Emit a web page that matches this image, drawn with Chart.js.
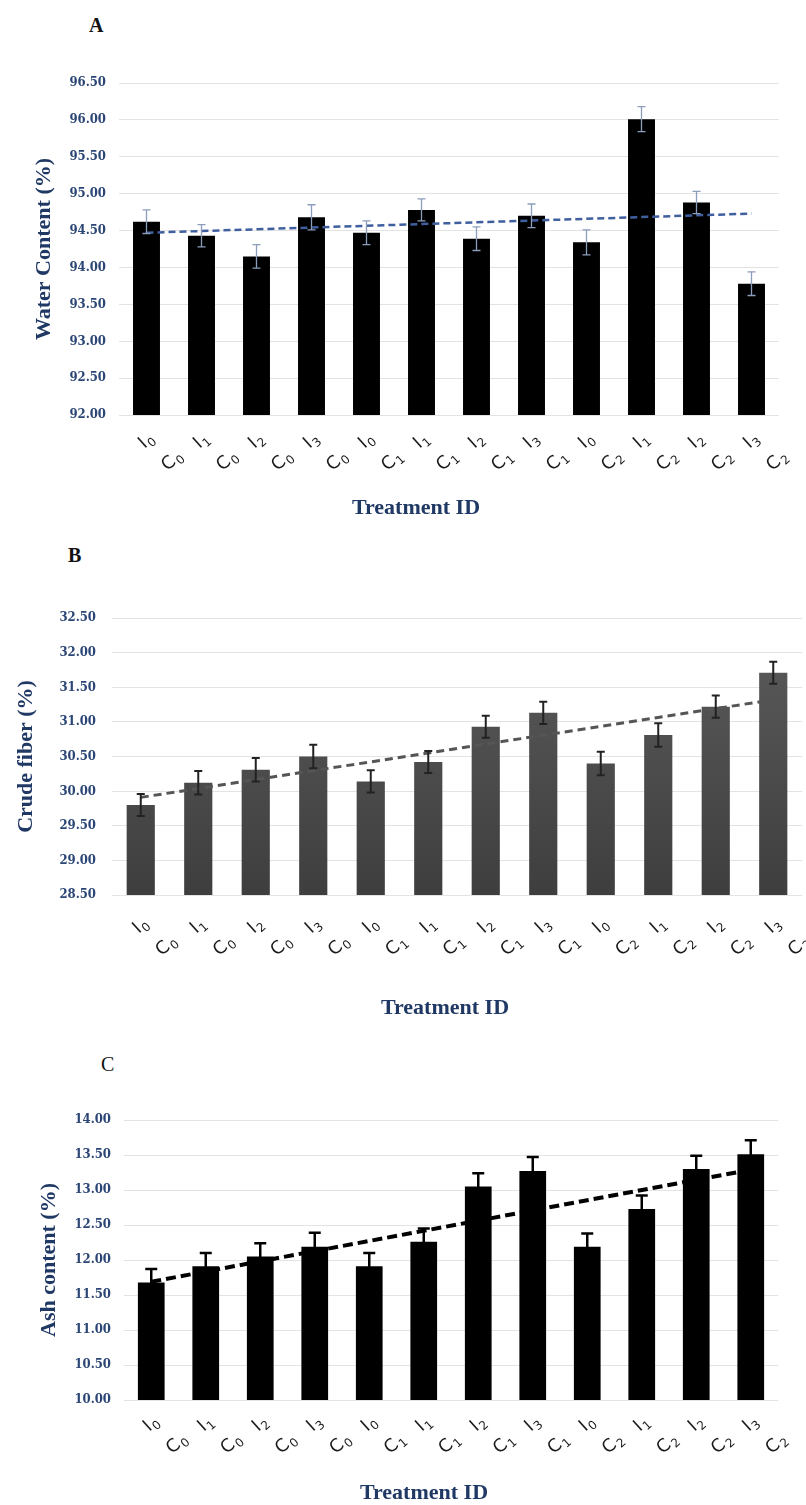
<!DOCTYPE html>
<html>
<head>
<meta charset="utf-8">
<script src="https://cdn.jsdelivr.net/npm/chart.js@4.4.1/dist/chart.umd.min.js"></script>
<style>
  body { margin: 0; background: #fff; width: 806px; height: 1505px; position: relative; overflow: hidden; }
  .panel { position: absolute; left: 0; }
  .letter { position: absolute; font-family: "Liberation Serif", serif; font-size: 20px; font-weight: bold; color: #111; line-height: 1; }
</style>
</head>
<body>
<div class="letter" style="left:89px;top:15px">A</div>
<div class="letter" style="left:68px;top:545px">B</div>
<div class="letter" style="left:101px;top:1054px;font-weight:normal">C</div>

<div class="panel" style="top:0"><canvas id="chartA" width="806" height="520"></canvas></div>
<div class="panel" style="top:520px"><canvas id="chartB" width="806" height="500"></canvas></div>
<div class="panel" style="top:1020px"><canvas id="chartC" width="806" height="485"></canvas></div>

<script>
// treatment IDs (irrigation level I, compost level C)
const treatmentIds = ['I₀ C₀', 'I₁ C₀', 'I₂ C₀', 'I₃ C₀', 'I₀ C₁', 'I₁ C₁', 'I₂ C₁', 'I₃ C₁', 'I₀ C₂', 'I₁ C₂', 'I₂ C₂', 'I₃ C₂'];

// A - water content (%)
const waterValues = [94.62, 94.43, 94.15, 94.68, 94.47, 94.78, 94.39, 94.70, 94.34, 96.01, 94.88, 93.78];
const waterErrors = [0.16, 0.15, 0.16, 0.17, 0.16, 0.15, 0.16, 0.16, 0.17, 0.17, 0.15, 0.16];
const waterTrend = [94.47, 94.73];   // linear trend, first and last treatment
const waterAxis = [92, 96.5, 0.5];

// B - crude fiber (%)
const fiberValues = [29.80, 30.12, 30.31, 30.50, 30.14, 30.42, 30.93, 31.13, 30.40, 30.81, 31.22, 31.71];
const fiberErrors = [0.16, 0.17, 0.17, 0.17, 0.16, 0.16, 0.16, 0.16, 0.17, 0.17, 0.16, 0.16];
const fiberTrend = [29.91, 31.32];
const fiberAxis = [28.5, 32.5, 0.5];

// C - ash content (%)
const ashValues = [11.68, 11.91, 12.05, 12.19, 11.91, 12.26, 13.05, 13.27, 12.19, 12.73, 13.30, 13.51];
const ashErrors = [0.19, 0.19, 0.19, 0.20, 0.19, 0.19, 0.19, 0.20, 0.19, 0.19, 0.19, 0.20];
const ashTrend = [11.69, 13.29];
const ashAxis = [10, 14, 0.5];

const NAVY = '#1F3864';
const SUBS = '₀₁₂₃₄₅₆₇₈₉';

/* ── error bars drawn over each bar ── */
const errorBarPlugin = {
    id: 'errorBars',
    afterDatasetsDraw(chart, args, opts) {
        const { ctx } = chart;
        const y = chart.scales.y;
        chart.data.datasets.forEach((ds, di) => {
            if (!ds.errors) return;
            const meta = chart.getDatasetMeta(di);
            ctx.save();
            ctx.strokeStyle = opts.color;
            ctx.lineWidth = opts.width;
            meta.data.forEach((bar, i) => {
                const v = ds.data[i], e = ds.errors[i];
                const top = y.getPixelForValue(v + e);
                const bot = y.getPixelForValue(v - e);
                const half = opts.cap / 2;
                ctx.beginPath();
                ctx.moveTo(bar.x, top); ctx.lineTo(bar.x, bot);
                ctx.moveTo(bar.x - half, top); ctx.lineTo(bar.x + half, top);
                ctx.moveTo(bar.x - half, bot); ctx.lineTo(bar.x + half, bot);
                ctx.stroke();
            });
            ctx.restore();
        });
    }
};

/* ── rotated two-line x labels with subscripts + axis title ── */
const xLabelPlugin = {
    id: 'xLabels',
    afterDraw(chart, args, opts) {
        const { ctx, chartArea } = chart;
        const x = chart.scales.x;
        ctx.save();
        ctx.fillStyle = '#1a1a1a';
        ctx.textAlign = 'left';
        ctx.textBaseline = 'alphabetic';
        chart.data.labels.forEach((label, i) => {
            const px = x.getPixelForValue(i);
            ctx.save();
            ctx.translate(px + opts.dx, chartArea.bottom + opts.dy);
            ctx.rotate(opts.angle * Math.PI / 180);
            const lines = label.split(' ');
            lines.forEach((line, li) => {
                let cx = li * opts.lineShift;
                const cy = li * opts.lineHeight;
                for (const ch of line) {
                    const s = SUBS.indexOf(ch);
                    if (s >= 0) {
                        ctx.font = '12px "DejaVu Sans", sans-serif';
                        ctx.fillText(String(s), cx + 1, cy + 4);
                        cx += ctx.measureText(String(s)).width + 1;
                    } else {
                        ctx.font = '18px "DejaVu Sans", sans-serif';
                        ctx.fillText(ch, cx, cy);
                        cx += ctx.measureText(ch).width;
                    }
                }
            });
            ctx.restore();
        });
        ctx.font = 'bold 22px "Liberation Serif", serif';
        ctx.fillStyle = NAVY;
        ctx.textAlign = 'center';
        ctx.textBaseline = 'middle';
        ctx.fillText('Treatment ID', opts.titleX, chartArea.bottom + opts.titleDy);
        ctx.restore();
    }
};

function makePanel(id, p) {
    const n = p.values.length;
    const trendData = p.values.map((_, i) => i === 0 ? p.trend[0] : (i === n - 1 ? p.trend[1] : null));
    return new Chart(document.getElementById(id), {
        data: {
            labels: treatmentIds,
            datasets: [
                { type: 'line', data: trendData, spanGaps: true, borderColor: p.trendColor,
                  borderWidth: p.trendWidth, borderDash: p.trendDash, pointRadius: 0, order: 0 },
                { type: 'bar', data: p.values, errors: p.errors, backgroundColor: p.barColor,
                  categoryPercentage: 1, barPercentage: 0.49, order: 1 }
            ]
        },
        options: {
            responsive: false,
            animation: false,
            layout: { padding: { top: p.padTop, right: p.padRight, bottom: 0, left: 0 } },
            plugins: {
                legend: { display: false },
                tooltip: { enabled: false },
                errorBars: p.err,
                xLabels: p.xl
            },
            scales: {
                x: {
                    grid: { display: false },
                    border: { display: false },
                    ticks: { display: false },
                    afterFit: s => { s.height = p.xHeight; }
                },
                y: {
                    min: p.axis[0], max: p.axis[1],
                    grid: { color: '#e3e3e3', drawTicks: false },
                    border: { display: false },
                    ticks: {
                        stepSize: p.axis[2],
                        padding: p.tickPad,
                        color: '#2B4675',
                        font: { family: '"DejaVu Serif Condensed", "Liberation Serif", serif', size: 13, weight: 'bold' },
                        callback: v => v.toFixed(2)
                    },
                    title: {
                        display: true, text: p.yTitle, color: NAVY,
                        font: { family: '"Liberation Serif", serif', size: 22, weight: 'bold' },
                        padding: { top: p.titlePad, bottom: 0 }
                    },
                    afterFit: s => { s.width = p.plotLeft; }
                }
            }
        },
        plugins: [errorBarPlugin, xLabelPlugin]
    });
}

const xlBase = { dx: -2, dy: 34, angle: -42, lineHeight: 32, lineShift: 2 };

makePanel('chartA', {
    values: waterValues, errors: waterErrors, trend: waterTrend, axis: waterAxis,
    yTitle: 'Water Content (%)', barColor: '#000',
    trendColor: '#3F5F9F', trendWidth: 2.5, trendDash: [7, 4],
    err: { color: '#8C9DBB', width: 1.3, cap: 8 },
    xl: Object.assign({}, xlBase, { titleX: 416, titleDy: 93 }),
    padTop: 83, padRight: 27, plotLeft: 119, xHeight: 105, tickPad: 13, titlePad: 31
});

makePanel('chartB', {
    values: fiberValues, errors: fiberErrors, trend: fiberTrend, axis: fiberAxis,
    yTitle: 'Crude fiber (%)',
    barColor: c => {
        const { ctx, chartArea } = c.chart;
        if (!chartArea) return '#4a4a4a';
        const g = ctx.createLinearGradient(0, chartArea.top, 0, chartArea.bottom);
        g.addColorStop(0, '#5c5c5c');
        g.addColorStop(1, '#3e3e3e');
        return g;
    },
    trendColor: '#555', trendWidth: 3, trendDash: [8, 5],
    err: { color: '#222', width: 2, cap: 8 },
    xl: Object.assign({}, xlBase, { dy: 39, titleX: 445, titleDy: 113 }),
    padTop: 98, padRight: 4, plotLeft: 112, xHeight: 125, tickPad: 16, titlePad: 13
});

makePanel('chartC', {
    values: ashValues, errors: ashErrors, trend: ashTrend, axis: ashAxis,
    yTitle: 'Ash content (%)', barColor: '#000',
    trendColor: '#000', trendWidth: 4, trendDash: [10, 5],
    err: { color: '#000', width: 2.5, cap: 12 },
    xl: Object.assign({}, xlBase, { dy: 32, titleX: 424, titleDy: 93 }),
    padTop: 100, padRight: 28, plotLeft: 124, xHeight: 105, tickPad: 13, titlePad: 36
});
</script>
</body>
</html>
